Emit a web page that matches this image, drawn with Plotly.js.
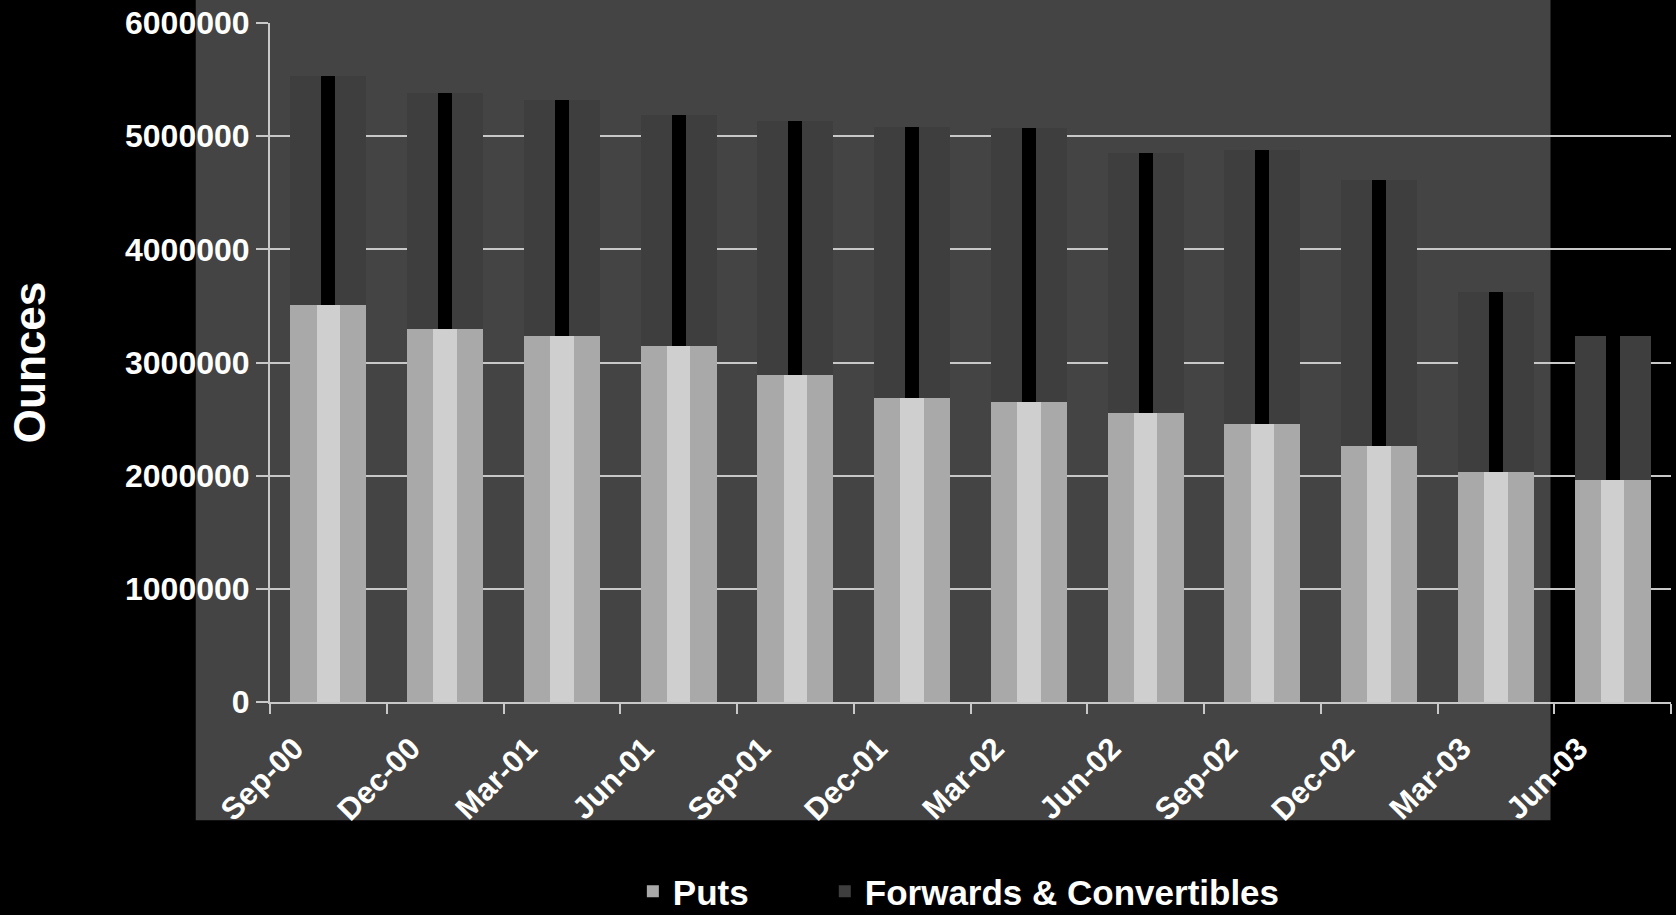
<!DOCTYPE html>
<html>
<head>
<meta charset="utf-8">
<script src="https://cdn.plot.ly/plotly-3.0.1.min.js"></script>
<style>
  html, body { margin: 0; padding: 0; background: #000; }
  #chart { width: 1676px; height: 915px; }
</style>
</head>
<body>
<div id="chart"></div>
<script>
// Quarter-end categories
const quarters = ["Sep-00", "Dec-00", "Mar-01", "Jun-01", "Sep-01", "Dec-01",
                  "Mar-02", "Jun-02", "Sep-02", "Dec-02", "Mar-03", "Jun-03"];
// Ounces hedged with puts
const puts = [3510000, 3300000, 3230000, 3150000, 2890000, 2690000,
              2650000, 2550000, 2460000, 2260000, 2030000, 1960000];
// Ounces hedged with forwards & convertibles
const forwards = [2020000, 2080000, 2090000, 2040000, 2240000, 2390000,
                  2420000, 2300000, 2420000, 2350000, 1590000, 1270000];
const yTicks = [0, 1000000, 2000000, 3000000, 4000000, 5000000, 6000000];

const FONT = "Liberation Sans, Arial, Helvetica, sans-serif";
const putsColor = "#a9a9a9";
const putsHighlight = "#cfcfcf";
const fwdColor = "#3e3e3e";
const bgDither = "#444444";

const traces = [
  { type: "bar", name: "Puts", x: quarters, y: puts,
    marker: { color: putsColor, line: { width: 0 } }, width: 0.65,
    legend: "legend", hoverinfo: "x+y" },
  { type: "bar", name: "Forwards & Convertibles", x: quarters, y: forwards,
    marker: { color: fwdColor, line: { width: 0 } }, width: 0.65,
    legend: "legend2", hoverinfo: "x+y" },
  // shading stripes in the middle of each bar (same data, narrow overlay)
  { type: "bar", x: quarters, y: puts, xaxis: "x2", yaxis: "y",
    marker: { color: putsHighlight, line: { width: 0 } }, width: 0.2,
    showlegend: false, hoverinfo: "skip" },
  { type: "bar", x: quarters, y: forwards, xaxis: "x2", yaxis: "y",
    marker: { color: "#000000", line: { width: 0 } }, width: 0.12,
    showlegend: false, hoverinfo: "skip" }
];

const legendFont = { family: FONT, size: 35, color: "#ffffff", weight: "bold" };

const layout = {
  width: 1676, height: 915,
  paper_bgcolor: "#000000",
  plot_bgcolor: "rgba(0,0,0,0)",
  barmode: "stack",
  margin: { l: 270, r: 5, t: 23, b: 213, pad: 0, autoexpand: false },
  font: { family: FONT, color: "#ffffff", size: 30, weight: "bold" },
  showlegend: true,
  legend: {
    orientation: "h", x: 0.259, xanchor: "left", y: -0.279, yanchor: "middle",
    font: legendFont, bgcolor: "rgba(0,0,0,0)", itemwidth: 30
  },
  legend2: {
    orientation: "h", x: 0.396, xanchor: "left", y: -0.279, yanchor: "middle",
    font: legendFont, bgcolor: "rgba(0,0,0,0)", itemwidth: 30
  },
  xaxis: {
    type: "category", categoryorder: "array", categoryarray: quarters,
    tickangle: -45, tickson: "boundaries",
    ticks: "outside", ticklen: 10, tickwidth: 2, tickcolor: "#c8c8c8",
    showline: true, linecolor: "#c8c8c8", linewidth: 2,
    showgrid: false, zeroline: false,
    ticklabelshift: -34, ticklabelstandoff: 14,
    tickfont: { family: FONT, size: 31, color: "#ffffff", weight: "bold" }
  },
  xaxis2: {
    type: "category", categoryorder: "array", categoryarray: quarters,
    overlaying: "x", visible: false
  },
  yaxis: {
    range: [0, 6000000], tickvals: yTicks, tickformat: "d",
    ticks: "outside", ticklen: 12, tickwidth: 2, tickcolor: "#c8c8c8",
    showline: true, linecolor: "#c8c8c8", linewidth: 2,
    showgrid: true, gridcolor: "#c8c8c8", gridwidth: 2,
    zeroline: false,
    tickfont: { family: FONT, size: 32, color: "#ffffff", weight: "bold" },
    title: { text: "Ounces", standoff: 66,
             font: { family: FONT, size: 44, color: "#ffffff", weight: "bold" } }
  },
  shapes: [
    { type: "rect", xref: "paper", yref: "paper", layer: "below",
      x0: -0.053, x1: 0.914, y0: -0.174, y1: 1.04,
      fillcolor: bgDither, line: { width: 0 } }
  ]
};

Plotly.newPlot("chart", traces, layout, { displayModeBar: false, staticPlot: true });
</script>
</body>
</html>
